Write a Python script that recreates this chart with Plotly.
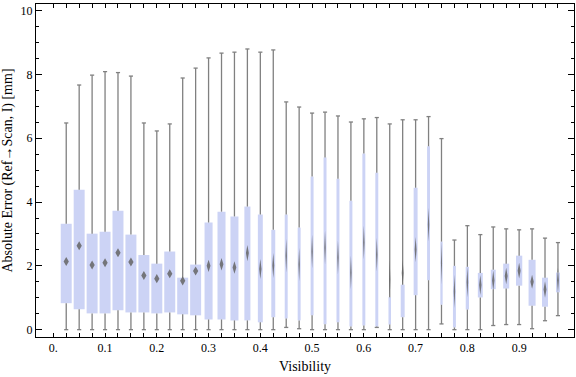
import plotly.graph_objects as go

# ---- data ----
visibility = [0.025, 0.05, 0.075, 0.1, 0.125, 0.15, 0.175, 0.2, 0.225, 0.25,
              0.275, 0.3, 0.325, 0.35, 0.375, 0.4, 0.425, 0.45, 0.475, 0.5,
              0.525, 0.55, 0.575, 0.6, 0.625, 0.65, 0.675, 0.7, 0.725, 0.75,
              0.775, 0.8, 0.825, 0.85, 0.875, 0.9, 0.925, 0.95, 0.975]

whisker_low = [0, 0, 0, 0, 0, 0, 0, 0, 0, 0,
               0, 0, 0, 0, 0, 0, 0, 0.07, 0.03, 0,
               0, 0, 0, 0, 0.07, 0, 0, 0, 0, 0.18,
               0, 0, 0, 0.13, 0.16, 0.16, 0.03, 0.28, 0.44]

whisker_high = [6.48, 7.67, 7.98, 8.09, 8.06, 7.95, 6.48, 6.23, 6.45, 7.89,
                8.2, 8.52, 8.67, 8.70, 8.80, 8.70, 8.77, 7.14, 6.98, 6.79,
                6.82, 6.70, 6.51, 6.61, 6.65, 6.45, 6.58, 6.58, 6.68, 5.99,
                2.81, 3.26, 2.98, 3.22, 3.16, 3.13, 3.16, 2.87, 2.73]

q1 = [0.83, 0.64, 0.51, 0.51, 0.61, 0.54, 0.54, 0.51, 0.54, 0.48,
      0.45, 0.32, 0.32, 0.29, 0.29, 0.23, 0.39, 0.35, 0.29, 0.45,
      0.17, 0.23, 0.10, 0.13, 0.10, 0.16, 0.39, 1.08, 1.55, 0.78,
      0.07, 0.63, 1.01, 1.27, 1.29, 1.38, 0.75, 0.72, 1.17]

q3 = [3.32, 4.39, 3.01, 3.07, 3.73, 2.98, 2.34, 2.07, 2.45, 1.63,
      2.04, 3.36, 3.70, 3.55, 3.86, 3.61, 3.13, 3.61, 3.20, 4.80,
      5.40, 4.73, 4.04, 5.52, 4.92, 1.02, 1.41, 4.45, 5.75, 2.76,
      2.00, 1.97, 1.78, 1.88, 2.07, 2.32, 2.19, 1.63, 1.79]

mean = [2.14, 2.63, 2.03, 2.10, 2.41, 2.12, 1.70, 1.60, 1.75, 1.53,
        1.84, 2.00, 2.05, 1.95, 2.40, 1.90, 2.01, 2.32, 2.04, 2.45,
        2.57, 2.26, 1.79, 2.73, 2.35, 1.57, 1.78, 2.51, 3.29, 2.09,
        1.20, 1.49, 1.40, 1.54, 1.68, 1.85, 1.50, 1.26, 1.55]

# relative sample weight (controls box width)
weight = [1.0, 1.0, 1.0, 1.0, 1.0, 1.0, 1.0, 1.0, 1.0, 1.0,
          1.0, 0.73, 0.73, 0.73, 0.55, 0.45, 0.36, 0.27, 0.27, 0.27,
          0.27, 0.27, 0.27, 0.27, 0.27, 0.23, 0.36, 0.36, 0.27, 0.21,
          0.27, 0.30, 0.45, 0.45, 0.55, 0.57, 0.64, 0.55, 0.36]

x_tick_vals = [0.025 * k for k in range(40)]
x_tick_text = ["0." if k == 0 else (f"{k/40:.1f}" if k % 4 == 0 else "") for k in range(40)]
y_tick_vals = [0, 2, 4, 6, 8, 10]

# ---- styles ----
MAX_W = 0.0212
CAP = 0.004
BOX_COLOR = "#CCD3F5"
WHISK_COLOR = "#808080"
MEAN_COLOR = "rgba(100,100,100,0.85)"
FONT = "Liberation Serif"

widths = [w * MAX_W for w in weight]

# whiskers: lower and upper segments, plus caps
wx, wy = [], []
for x, lo, a, b, hi in zip(visibility, whisker_low, q1, q3, whisker_high):
    wx += [x, x, None, x, x, None, x - CAP, x + CAP, None, x - CAP, x + CAP, None]
    wy += [lo, a, None, b, hi, None, lo, lo, None, hi, hi, None]

# mean diamonds (height grows as box narrows, like the reference)
dx, dy = [], []
for x, m, w in zip(visibility, mean, widths):
    hw = 0.24 * w
    hh = 0.003 / w
    dx += [x, x + hw, x, x - hw, x, None]
    dy += [m + hh, m, m - hh, m, m + hh, None]

fig = go.Figure()
fig.add_trace(go.Bar(
    x=visibility, y=[b - a for a, b in zip(q1, q3)], base=q1, width=widths,
    marker=dict(color=BOX_COLOR, line=dict(width=0)), showlegend=False,
    hoverinfo="skip"))
fig.add_trace(go.Scatter(
    x=wx, y=wy, mode="lines", line=dict(color=WHISK_COLOR, width=1.3),
    showlegend=False, hoverinfo="skip"))
fig.add_trace(go.Scatter(
    x=dx, y=dy, mode="lines", fill="toself", fillcolor=MEAN_COLOR,
    line=dict(width=0, color=MEAN_COLOR), showlegend=False, hoverinfo="skip"))

fig.update_layout(
    width=576, height=377,
    margin=dict(l=36, r=2, t=4, b=40),
    paper_bgcolor="white", plot_bgcolor="white",
    font=dict(family=FONT, size=12, color="black"),
    xaxis=dict(
        range=[-0.0334, 1.006], tickvals=x_tick_vals, ticktext=x_tick_text,
        ticks="inside", ticklen=4, tickcolor="black", tickwidth=1,
        showline=True, linecolor="black", linewidth=1, mirror="ticks",
        showgrid=False, zeroline=False,
        title=dict(text="Visibility", standoff=6)),
    yaxis=dict(
        range=[-0.23, 10.21], tickvals=y_tick_vals,
        ticks="inside", ticklen=6, tickcolor="black", tickwidth=1,
        minor=dict(dtick=0.5, tick0=0, ticks="inside", ticklen=3, tickcolor="black"),
        showline=True, linecolor="black", linewidth=1, mirror="ticks",
        showgrid=False, zeroline=False,
        title=dict(text="Absolute Error (Ref\u2192Scan, I) [mm]", standoff=6)),
)

fig.write_html(
    "out.html",
    config={"displayModeBar": False, "staticPlot": True},
    post_script="document.body.style.margin='0';document.body.style.overflow='hidden';",
)
